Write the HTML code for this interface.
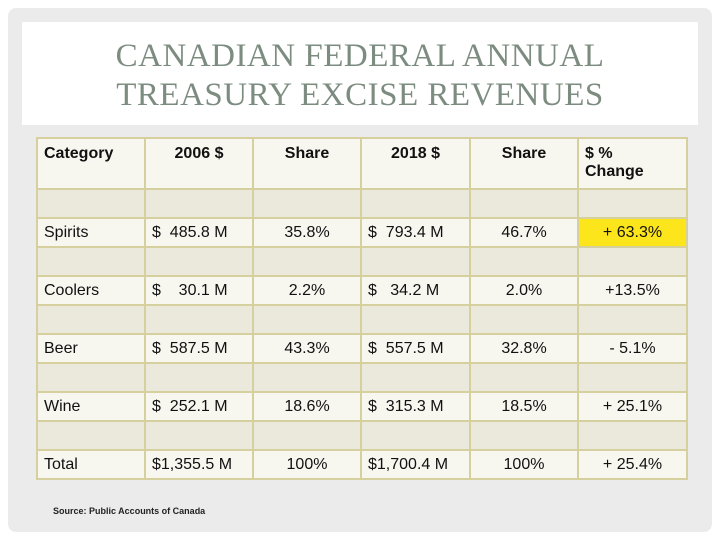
<!DOCTYPE html>
<html><head><style>
body{margin:0;width:720px;height:540px;background:#fff;position:relative;overflow:hidden;font-family:"Liberation Sans",sans-serif}
.panel{position:absolute;left:8px;top:8px;width:704px;height:524px;background:#ebebeb;border-radius:8px}
.title{position:absolute;left:22px;top:22px;width:676px;height:103px;background:#fff}
.title div{position:absolute;left:0;width:100%;text-align:center;font-family:"Liberation Serif",serif;color:#7d8c80;font-size:33px;letter-spacing:0.5px}
table{position:absolute;left:36px;top:137px;width:650px;border-collapse:collapse;table-layout:fixed}
td{border:2px solid #d6cf9e;height:29px;padding:0 6px;font-size:16px;color:#111;background:#f7f6ef;box-sizing:border-box;white-space:nowrap;overflow:hidden}
tr.e td{background:#ebe9dc}
tr.h td{height:51px;vertical-align:top;font-weight:bold;padding-top:6px}
.c{text-align:center}
.src{position:absolute;left:53px;top:506px;font-size:9px;font-weight:bold;color:#222}
</style></head><body>
<div class="panel"></div>
<div class="title"><div style="top:16px">CANADIAN FEDERAL ANNUAL</div><div style="top:55px">TREASURY EXCISE REVENUES</div></div>
<table>
<colgroup><col style="width:108px"><col style="width:108px"><col style="width:108px"><col style="width:109px"><col style="width:108px"><col style="width:109px"></colgroup>
<tr class="h"><td>Category</td><td class="c">2006 $</td><td class="c">Share</td><td class="c">2018 $</td><td class="c">Share</td><td>$ %<br>Change</td></tr>
<tr class="e"><td></td><td></td><td></td><td></td><td></td><td></td></tr>
<tr><td>Spirits</td><td>$&nbsp; 485.8 M</td><td class="c">35.8%</td><td>$&nbsp; 793.4 M</td><td class="c">46.7%</td><td class="c" style="background:#fde51c">+ 63.3%</td></tr>
<tr class="e"><td></td><td></td><td></td><td></td><td></td><td></td></tr>
<tr><td>Coolers</td><td>$&nbsp;&nbsp;&nbsp; 30.1 M</td><td class="c">2.2%</td><td>$&nbsp;&nbsp; 34.2 M</td><td class="c">2.0%</td><td class="c">+13.5%</td></tr>
<tr class="e"><td></td><td></td><td></td><td></td><td></td><td></td></tr>
<tr><td>Beer</td><td>$&nbsp; 587.5 M</td><td class="c">43.3%</td><td>$&nbsp; 557.5 M</td><td class="c">32.8%</td><td class="c">- 5.1%</td></tr>
<tr class="e"><td></td><td></td><td></td><td></td><td></td><td></td></tr>
<tr><td>Wine</td><td>$&nbsp; 252.1 M</td><td class="c">18.6%</td><td>$&nbsp; 315.3 M</td><td class="c">18.5%</td><td class="c">+ 25.1%</td></tr>
<tr class="e"><td></td><td></td><td></td><td></td><td></td><td></td></tr>
<tr><td>Total</td><td>$1,355.5 M</td><td class="c">100%</td><td>$1,700.4 M</td><td class="c">100%</td><td class="c">+ 25.4%</td></tr>
</table>
<div class="src">Source: Public Accounts of Canada</div>
</body></html>
